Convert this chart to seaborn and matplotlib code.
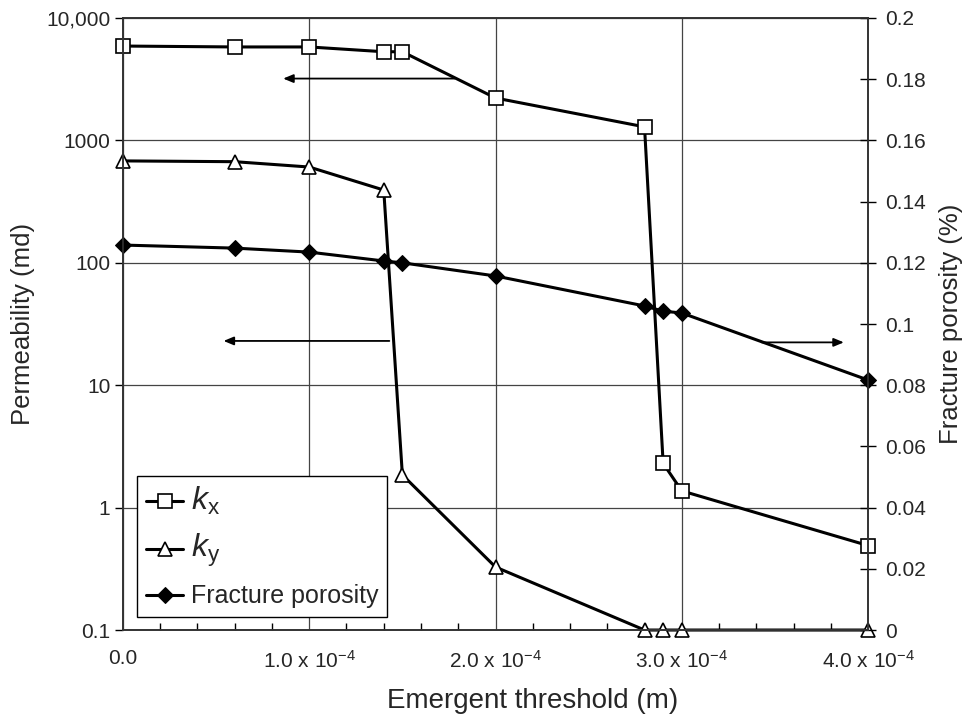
import matplotlib
matplotlib.use("Agg")
import matplotlib.pyplot as plt
import seaborn as sns
import pandas as pd
import numpy as np
from matplotlib.ticker import FixedLocator, MultipleLocator

# ---- data ----
threshold = [0.0, 0.6e-4, 1.0e-4, 1.4e-4, 1.5e-4, 2.0e-4, 2.8e-4, 2.9e-4, 3.0e-4, 4.0e-4]
kx = [5900, 5800, 5800, 5300, 5300, 2220, 1290, 2.3, 1.37, 0.49]
ky = [680, 670, 606, 393, 1.85, 0.327, 0.1, 0.1, 0.1, 0.1]
porosity = [0.1258, 0.1248, 0.1235, 0.1206, 0.1200, 0.1157, 0.1059, 0.1042, 0.1036, 0.0817]

x_ticks = [0.0, 1.0e-4, 2.0e-4, 3.0e-4, 4.0e-4]
x_tick_labels = ["0.0", r"1.0 x 10$^{\mathbf{-}4}$", r"2.0 x 10$^{\mathbf{-}4}$",
                 r"3.0 x 10$^{\mathbf{-}4}$", r"4.0 x 10$^{\mathbf{-}4}$"]
y_ticks = [0.1, 1, 10, 100, 1000, 10000]
y_tick_labels = ["0.1", "1", "10", "100", "1000", "10,000"]
y2_ticks = [0, 0.02, 0.04, 0.06, 0.08, 0.1, 0.12, 0.14, 0.16, 0.18, 0.2]
y2_tick_labels = ["0", "0.02", "0.04", "0.06", "0.08", "0.1", "0.12", "0.14", "0.16", "0.18", "0.2"]

# annotation arrows (start x, end x, y)
arrow_kx = (1.78e-4, 0.86e-4, 3200)
arrow_ky = (1.43e-4, 0.54e-4, 23)
arrow_por = (3.43e-4, 3.87e-4, 0.094)

sns.set_style("white")
plt.rcParams["font.family"] = ["Liberation Sans", "DejaVu Sans"]
plt.rcParams["mathtext.fontset"] = "custom"
plt.rcParams["mathtext.rm"] = "Liberation Sans"
plt.rcParams["mathtext.it"] = "Liberation Sans:italic"
plt.rcParams["mathtext.bf"] = "Liberation Sans"

FS = 15

df = pd.DataFrame({"x": threshold, "kx": kx, "ky": ky, "por": porosity})

fig = plt.figure(figsize=(9.66, 7.14), dpi=100)
ax = fig.add_axes([0.1273, 0.1176, 0.7713, 0.8572])
ax2 = ax.twinx()

lw = 2.2
sns.lineplot(data=df, x="x", y="kx", ax=ax, sort=False, color="black", lw=lw,
             marker="s", markersize=10, markerfacecolor="white", markeredgecolor="black",
             markeredgewidth=1.2, label=r"$k_\mathrm{x}$", legend=False)
sns.lineplot(data=df, x="x", y="ky", ax=ax, sort=False, color="black", lw=lw,
             marker="^", markersize=10, markerfacecolor="white", markeredgecolor="black",
             markeredgewidth=1.2, label=r"$k_\mathrm{y}$", legend=False)
sns.lineplot(data=df, x="x", y="por", ax=ax2, sort=False, color="black", lw=lw,
             marker="D", markersize=8, markerfacecolor="black", markeredgecolor="black",
             label="Fracture porosity", legend=False)
for a in (ax, ax2):
    for ln in a.lines:
        ln.set_clip_on(False)

ax.set_yscale("log")
ax.set_xlim(0, 4.0e-4)
ax.set_ylim(0.1, 10000)
ax2.set_ylim(0, 0.2)

ax.xaxis.set_major_locator(FixedLocator(x_ticks))
ax.set_xticklabels(x_tick_labels, fontsize=FS)
ax.xaxis.set_minor_locator(MultipleLocator(0.2e-4))
ax.yaxis.set_major_locator(FixedLocator(y_ticks))
ax.yaxis.set_minor_locator(FixedLocator([]))
ax.set_yticklabels(y_tick_labels, fontsize=FS)
ax2.yaxis.set_major_locator(FixedLocator(y2_ticks))
ax2.set_yticklabels(y2_tick_labels, fontsize=FS)

ax.grid(True, which="major", color="#444444", lw=0.9)
ax2.grid(False)
ax.set_axisbelow(True)

ax.tick_params(axis="x", which="major", direction="out", length=6, width=1, color="black", pad=8)
ax.tick_params(axis="x", which="minor", direction="in", length=5, width=1, color="black", bottom=True)
ax.tick_params(axis="y", which="major", direction="out", length=6, width=1, color="black", pad=3)
ax2.tick_params(axis="y", which="major", direction="inout", length=12, width=1, color="black", pad=6)

for a in (ax, ax2):
    for s in a.spines.values():
        s.set_color("#333333")
        s.set_linewidth(1.2)
        s.set_visible(True)

ax.set_xlabel("Emergent threshold (m)", fontsize=20, labelpad=16)
ax.xaxis.set_label_coords(0.55, -0.095)
ax.xaxis.label.set_va("top")
ax.set_ylabel("Permeability (md)", fontsize=18.5, labelpad=8)
ax2.set_ylabel("Fracture porosity (%)", fontsize=18.5, labelpad=10)

aprops = dict(arrowstyle="-|>,head_length=0.6,head_width=0.25", color="black", lw=1.3,
              shrinkA=0, shrinkB=0)
ax.annotate("", xy=(arrow_kx[1], arrow_kx[2]), xytext=(arrow_kx[0], arrow_kx[2]), arrowprops=aprops)
ax.annotate("", xy=(arrow_ky[1], arrow_ky[2]), xytext=(arrow_ky[0], arrow_ky[2]), arrowprops=aprops)
ax2.annotate("", xy=(arrow_por[1], arrow_por[2]), xytext=(arrow_por[0], arrow_por[2]), arrowprops=aprops)

handles = ax.lines[:2] + ax2.lines[:1]
labels = [r"$k_\mathrm{x}$", r"$k_\mathrm{y}$", "Fracture porosity"]
leg = ax2.legend(handles, labels, loc="lower left", bbox_to_anchor=(0.019, 0.021),
                 fontsize=18, frameon=True, fancybox=False, framealpha=1,
                 edgecolor="black", handlelength=1.5, handletextpad=0.3,
                 labelspacing=0.6, borderpad=0.35, borderaxespad=0)
leg.get_frame().set_linewidth(1.0)
leg.set_zorder(10)
for t in leg.get_texts()[:2]:
    t.set_fontsize(23)

fig.savefig("out.png", dpi=100)
